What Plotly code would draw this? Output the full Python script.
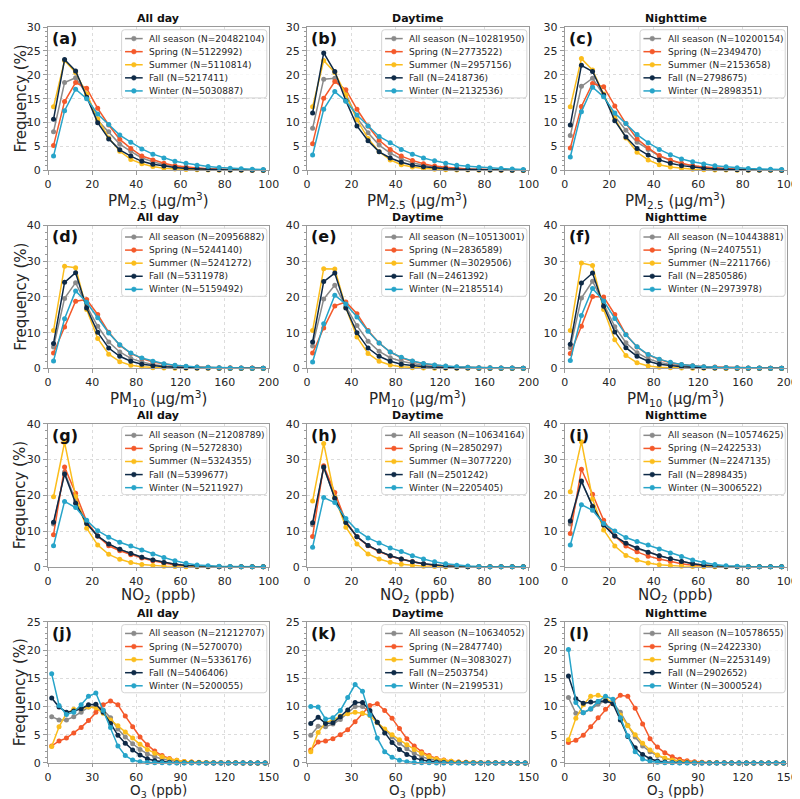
import plotly.graph_objects as go

W, H = 800, 799

season_names = ["All season", "Spring", "Summer", "Fall", "Winter"]
season_colors = ["#8a8a8a", "#f4592a", "#fbbd1c", "#0e2a47", "#27a4c9"]

# bin centres
x_pm25 = [2.5, 7.5, 12.5, 17.5, 22.5, 27.5, 32.5, 37.5, 42.5, 47.5,
          52.5, 57.5, 62.5, 67.5, 72.5, 77.5, 82.5, 87.5, 92.5, 97.5]
x_pm10 = [5, 15, 25, 35, 45, 55, 65, 75, 85, 95,
          105, 115, 125, 135, 145, 155, 165, 175, 185, 195]
x_no2 = [2.5, 7.5, 12.5, 17.5, 22.5, 27.5, 32.5, 37.5, 42.5, 47.5,
         52.5, 57.5, 62.5, 67.5, 72.5, 77.5, 82.5, 87.5, 92.5, 97.5]
x_o3 = [2.5, 7.5, 12.5, 17.5, 22.5, 27.5, 32.5, 37.5, 42.5, 47.5,
        52.5, 57.5, 62.5, 67.5, 72.5, 77.5, 82.5, 87.5, 92.5, 97.5,
        102.5, 107.5, 112.5, 117.5, 122.5, 127.5, 132.5, 137.5, 142.5, 147.5]

# ---------------- PM2.5 ----------------
pm25_allday = [
    [8.1, 18.4, 19.4, 16.0, 10.5, 8.1, 5.5, 4.0, 2.6, 1.8, 1.2, 0.8, 0.6, 0.4, 0.3, 0.2, 0.15, 0.1, 0.07, 0.05],
    [5.2, 14.4, 18.4, 17.2, 13.0, 9.5, 6.5, 4.6, 3.0, 2.2, 1.5, 1.0, 0.7, 0.5, 0.35, 0.25, 0.18, 0.12, 0.08, 0.06],
    [13.3, 23.0, 20.5, 16.0, 10.8, 6.8, 4.0, 2.3, 1.4, 0.8, 0.45, 0.28, 0.18, 0.12, 0.08, 0.05, 0.03, 0.02, 0.02, 0.01],
    [10.7, 23.2, 20.8, 15.3, 10.0, 6.6, 4.3, 3.0, 1.9, 1.3, 0.9, 0.6, 0.4, 0.3, 0.2, 0.14, 0.1, 0.07, 0.05, 0.04],
    [3.0, 12.5, 17.0, 15.0, 11.8, 9.6, 7.4, 5.9, 4.5, 3.4, 2.6, 1.9, 1.5, 1.1, 0.8, 0.6, 0.45, 0.35, 0.25, 0.2],
]
pm25_day = [
    [8.8, 19.1, 19.3, 16.0, 11.0, 7.9, 5.3, 3.6, 2.4, 1.6, 1.1, 0.7, 0.5, 0.35, 0.25, 0.18, 0.12, 0.08, 0.06, 0.04],
    [5.6, 15.1, 18.6, 16.9, 12.8, 9.3, 6.3, 4.4, 3.0, 2.1, 1.4, 0.9, 0.65, 0.45, 0.3, 0.22, 0.15, 0.1, 0.07, 0.05],
    [13.3, 23.0, 20.5, 15.8, 10.6, 6.7, 3.9, 2.2, 1.2, 0.7, 0.4, 0.25, 0.15, 0.1, 0.06, 0.04, 0.03, 0.02, 0.01, 0.01],
    [12.0, 24.6, 20.7, 14.6, 9.3, 6.2, 3.9, 2.6, 1.7, 1.1, 0.75, 0.5, 0.35, 0.25, 0.17, 0.12, 0.08, 0.06, 0.04, 0.03],
    [3.2, 12.8, 16.5, 14.5, 11.6, 9.3, 7.1, 5.8, 4.4, 3.4, 2.6, 2.0, 1.5, 1.1, 0.85, 0.65, 0.5, 0.38, 0.28, 0.2],
]
pm25_night = [
    [7.3, 17.6, 19.3, 15.7, 11.3, 8.4, 5.9, 4.4, 3.0, 2.1, 1.4, 0.95, 0.65, 0.45, 0.3, 0.22, 0.15, 0.1, 0.07, 0.05],
    [4.7, 13.4, 18.2, 17.5, 13.5, 9.8, 6.6, 4.7, 3.1, 2.2, 1.5, 1.0, 0.7, 0.5, 0.35, 0.25, 0.18, 0.12, 0.08, 0.06],
    [13.3, 23.4, 21.0, 16.0, 10.9, 6.8, 3.8, 2.2, 1.2, 0.7, 0.4, 0.25, 0.15, 0.1, 0.06, 0.04, 0.03, 0.02, 0.01, 0.01],
    [9.5, 22.0, 20.7, 15.8, 10.4, 7.0, 4.6, 3.2, 2.2, 1.5, 1.0, 0.7, 0.45, 0.32, 0.22, 0.16, 0.11, 0.08, 0.06, 0.04],
    [2.8, 12.3, 17.4, 15.4, 12.0, 9.8, 7.5, 5.8, 4.4, 3.3, 2.4, 1.8, 1.35, 1.0, 0.75, 0.55, 0.42, 0.32, 0.24, 0.18],
]

# ---------------- PM10 ----------------
pm10_allday = [
    [6.0, 19.6, 24.0, 17.5, 11.8, 7.4, 4.6, 2.8, 1.8, 1.1, 0.7, 0.45, 0.3, 0.2, 0.14, 0.1, 0.07, 0.05, 0.04, 0.03],
    [4.3, 11.6, 18.8, 19.3, 15.1, 10.1, 6.5, 4.2, 2.8, 1.8, 1.2, 0.8, 0.55, 0.4, 0.3, 0.22, 0.16, 0.12, 0.09, 0.07],
    [10.6, 28.6, 28.2, 16.5, 8.4, 4.0, 1.9, 0.9, 0.45, 0.22, 0.12, 0.07, 0.04, 0.03, 0.02, 0.01, 0.01, 0.01, 0.0, 0.0],
    [7.0, 24.1, 26.8, 16.9, 10.1, 5.7, 3.4, 2.0, 1.2, 0.75, 0.45, 0.3, 0.2, 0.13, 0.09, 0.06, 0.04, 0.03, 0.02, 0.02],
    [2.1, 13.9, 21.7, 18.5, 14.2, 9.9, 6.6, 4.3, 2.9, 2.0, 1.3, 0.9, 0.6, 0.42, 0.3, 0.2, 0.15, 0.1, 0.08, 0.06],
]
pm10_day = [
    [6.3, 19.4, 23.3, 17.3, 12.0, 7.6, 4.8, 3.0, 2.0, 1.3, 0.8, 0.55, 0.35, 0.25, 0.17, 0.12, 0.08, 0.06, 0.04, 0.03],
    [4.3, 11.3, 17.5, 18.6, 15.3, 10.6, 7.1, 4.6, 3.0, 2.0, 1.3, 0.9, 0.6, 0.42, 0.3, 0.22, 0.16, 0.12, 0.09, 0.07],
    [10.6, 27.9, 27.8, 17.0, 8.8, 4.2, 2.0, 0.95, 0.45, 0.22, 0.12, 0.07, 0.04, 0.03, 0.02, 0.01, 0.01, 0.01, 0.0, 0.0],
    [7.4, 24.3, 26.7, 16.9, 10.0, 5.7, 3.4, 2.0, 1.2, 0.75, 0.45, 0.3, 0.2, 0.13, 0.09, 0.06, 0.04, 0.03, 0.02, 0.02],
    [1.8, 12.5, 20.5, 18.0, 14.4, 10.4, 7.1, 4.6, 3.1, 2.1, 1.4, 0.95, 0.65, 0.45, 0.3, 0.22, 0.16, 0.12, 0.09, 0.07],
]
pm10_night = [
    [5.8, 19.7, 24.4, 17.9, 11.7, 7.2, 4.4, 2.7, 1.7, 1.1, 0.7, 0.45, 0.3, 0.2, 0.14, 0.1, 0.07, 0.05, 0.04, 0.03],
    [4.2, 11.8, 20.1, 20.0, 15.1, 9.5, 6.0, 3.8, 2.5, 1.6, 1.1, 0.75, 0.5, 0.38, 0.28, 0.2, 0.15, 0.11, 0.08, 0.06],
    [10.6, 29.5, 28.8, 16.5, 8.0, 3.6, 1.6, 0.7, 0.35, 0.18, 0.1, 0.06, 0.03, 0.02, 0.01, 0.01, 0.01, 0.0, 0.0, 0.0],
    [6.8, 23.9, 26.7, 17.4, 10.2, 5.8, 3.4, 2.0, 1.2, 0.75, 0.45, 0.3, 0.2, 0.13, 0.09, 0.06, 0.04, 0.03, 0.02, 0.02],
    [2.2, 14.8, 22.4, 18.9, 14.0, 9.4, 6.1, 3.9, 2.6, 1.7, 1.1, 0.75, 0.5, 0.35, 0.25, 0.18, 0.13, 0.09, 0.07, 0.05],
]

# ---------------- NO2 ----------------
no2_allday = [
    [12.0, 26.5, 18.5, 12.3, 8.6, 6.3, 4.9, 3.7, 2.7, 1.9, 1.2, 0.7, 0.4, 0.2, 0.1, 0.05, 0.03, 0.02, 0.01, 0.01],
    [9.0, 27.9, 20.6, 12.7, 8.6, 5.9, 4.5, 3.4, 2.5, 1.7, 1.0, 0.5, 0.25, 0.12, 0.06, 0.03, 0.02, 0.01, 0.01, 0.0],
    [19.6, 34.8, 19.7, 10.8, 6.1, 3.5, 2.1, 1.2, 0.65, 0.35, 0.18, 0.09, 0.05, 0.03, 0.02, 0.01, 0.01, 0.0, 0.0, 0.0],
    [12.5, 26.0, 17.8, 12.1, 8.6, 6.4, 4.9, 3.7, 2.7, 1.9, 1.2, 0.7, 0.4, 0.2, 0.1, 0.05, 0.03, 0.02, 0.01, 0.01],
    [5.9, 18.3, 16.6, 13.0, 10.1, 8.3, 6.9, 5.8, 4.7, 3.6, 2.6, 1.7, 1.0, 0.55, 0.28, 0.14, 0.07, 0.04, 0.02, 0.01],
]
no2_day = [
    [11.8, 27.8, 19.3, 12.5, 8.5, 6.0, 4.4, 3.1, 2.2, 1.5, 0.9, 0.5, 0.25, 0.12, 0.06, 0.03, 0.02, 0.01, 0.01, 0.0],
    [8.5, 28.3, 20.8, 12.7, 8.4, 5.9, 4.3, 3.0, 2.1, 1.4, 0.8, 0.4, 0.2, 0.1, 0.05, 0.03, 0.02, 0.01, 0.0, 0.0],
    [18.4, 34.5, 19.5, 11.1, 6.4, 3.6, 2.2, 1.3, 0.7, 0.35, 0.18, 0.09, 0.05, 0.03, 0.02, 0.01, 0.01, 0.0, 0.0, 0.0],
    [12.3, 27.9, 19.2, 12.4, 8.4, 6.0, 4.4, 3.1, 2.2, 1.4, 0.85, 0.45, 0.22, 0.1, 0.05, 0.03, 0.02, 0.01, 0.01, 0.0],
    [5.5, 19.4, 18.0, 13.5, 10.2, 8.1, 6.7, 5.3, 4.3, 3.1, 2.2, 1.4, 0.85, 0.45, 0.22, 0.1, 0.05, 0.03, 0.02, 0.01],
]
no2_night = [
    [12.0, 23.8, 17.0, 11.8, 8.6, 6.5, 5.1, 4.0, 3.1, 2.3, 1.5, 0.9, 0.5, 0.25, 0.12, 0.06, 0.03, 0.02, 0.01, 0.01],
    [9.3, 27.3, 20.3, 13.0, 8.6, 5.8, 4.2, 3.0, 2.2, 1.5, 0.9, 0.45, 0.22, 0.1, 0.05, 0.03, 0.02, 0.01, 0.0, 0.0],
    [21.0, 35.0, 19.0, 10.3, 5.8, 3.2, 1.9, 1.1, 0.6, 0.3, 0.15, 0.08, 0.04, 0.02, 0.01, 0.01, 0.0, 0.0, 0.0, 0.0],
    [12.8, 24.0, 16.9, 11.7, 8.6, 6.6, 5.3, 4.1, 3.1, 2.3, 1.5, 0.85, 0.45, 0.22, 0.1, 0.05, 0.03, 0.02, 0.01, 0.01],
    [6.1, 17.4, 15.8, 12.1, 10.0, 8.2, 7.1, 6.1, 5.0, 3.9, 2.9, 1.9, 1.2, 0.65, 0.32, 0.15, 0.07, 0.04, 0.02, 0.01],
]

# ---------------- O3 ----------------
o3_allday = [
    [8.2, 7.6, 7.6, 8.2, 9.0, 9.9, 10.2, 9.4, 8.0, 6.0, 4.6, 3.4, 2.4, 1.6, 1.1, 0.7, 0.45, 0.28, 0.17, 0.1,
     0.06, 0.04, 0.03, 0.02, 0.01, 0.01, 0.01, 0.0, 0.0, 0.0],
    [3.0, 3.9, 4.4, 5.3, 6.3, 7.5, 9.0, 10.3, 11.0, 10.3, 8.3, 6.4, 4.6, 3.2, 2.1, 1.3, 0.8, 0.45, 0.25, 0.14,
     0.08, 0.05, 0.03, 0.02, 0.01, 0.01, 0.0, 0.0, 0.0, 0.0],
    [2.9, 6.4, 8.8, 9.5, 9.6, 9.9, 9.8, 8.8, 7.6, 6.6, 5.5, 4.4, 3.3, 2.4, 1.7, 1.1, 0.7, 0.45, 0.27, 0.16,
     0.1, 0.06, 0.04, 0.02, 0.01, 0.01, 0.0, 0.0, 0.0, 0.0],
    [11.5, 9.9, 9.0, 9.2, 9.6, 10.3, 10.4, 9.0, 7.0, 4.9, 3.5, 2.3, 1.4, 0.75, 0.4, 0.2, 0.1, 0.05, 0.03, 0.02,
     0.01, 0.0, 0.0, 0.0, 0.0, 0.0, 0.0, 0.0, 0.0, 0.0],
    [15.8, 10.2, 8.6, 9.0, 10.3, 11.8, 12.4, 9.3, 6.3, 3.0, 1.3, 0.5, 0.2, 0.08, 0.03, 0.01, 0.0, 0.0, 0.0, 0.0,
     0.0, 0.0, 0.0, 0.0, 0.0, 0.0, 0.0, 0.0, 0.0, 0.0],
]
o3_day = [
    [4.9, 6.5, 6.4, 6.9, 7.7, 8.9, 10.0, 10.0, 9.0, 7.2, 5.9, 4.6, 3.5, 2.5, 1.7, 1.1, 0.7, 0.45, 0.28, 0.17,
     0.1, 0.06, 0.04, 0.02, 0.01, 0.01, 0.0, 0.0, 0.0, 0.0],
    [2.3, 3.7, 3.9, 4.3, 5.0, 5.9, 7.3, 8.8, 10.2, 10.5, 9.3, 7.9, 6.1, 4.3, 3.0, 2.0, 1.3, 0.8, 0.5, 0.3,
     0.18, 0.1, 0.06, 0.04, 0.02, 0.01, 0.01, 0.0, 0.0, 0.0],
    [2.0, 5.4, 7.1, 7.6, 8.3, 8.7, 9.0, 8.8, 8.4, 7.1, 6.0, 5.0, 4.1, 3.2, 2.4, 1.7, 1.1, 0.7, 0.45, 0.28,
     0.17, 0.1, 0.06, 0.03, 0.02, 0.01, 0.0, 0.0, 0.0, 0.0],
    [7.0, 8.1, 7.0, 7.1, 8.2, 9.4, 10.7, 10.7, 9.3, 7.2, 5.3, 3.6, 2.4, 1.5, 0.9, 0.5, 0.3, 0.15, 0.08, 0.04,
     0.02, 0.01, 0.0, 0.0, 0.0, 0.0, 0.0, 0.0, 0.0, 0.0],
    [10.0, 9.9, 7.8, 8.0, 9.3, 11.6, 13.9, 12.7, 8.5, 4.4, 2.0, 1.0, 0.45, 0.2, 0.08, 0.03, 0.01, 0.0, 0.0, 0.0,
     0.0, 0.0, 0.0, 0.0, 0.0, 0.0, 0.0, 0.0, 0.0, 0.0],
]
o3_night = [
    [11.6, 8.8, 8.9, 9.5, 10.4, 11.0, 10.6, 9.0, 6.7, 4.6, 3.0, 2.0, 1.3, 0.8, 0.5, 0.3, 0.18, 0.1, 0.06, 0.03,
     0.02, 0.01, 0.0, 0.0, 0.0, 0.0, 0.0, 0.0, 0.0, 0.0],
    [3.6, 4.0, 4.9, 6.4, 8.0, 9.5, 10.9, 12.0, 11.8, 9.7, 6.9, 4.3, 2.8, 1.8, 1.1, 0.65, 0.38, 0.2, 0.11, 0.06,
     0.03, 0.02, 0.01, 0.0, 0.0, 0.0, 0.0, 0.0, 0.0, 0.0],
    [4.1, 7.9, 10.3, 11.8, 12.0, 11.5, 10.5, 8.5, 6.6, 5.0, 3.5, 2.3, 1.4, 0.85, 0.5, 0.28, 0.15, 0.08, 0.04, 0.02,
     0.01, 0.0, 0.0, 0.0, 0.0, 0.0, 0.0, 0.0, 0.0, 0.0],
    [15.4, 11.4, 10.6, 10.8, 10.9, 11.0, 10.5, 7.6, 4.7, 2.7, 1.5, 0.75, 0.35, 0.15, 0.07, 0.03, 0.01, 0.0, 0.0, 0.0,
     0.0, 0.0, 0.0, 0.0, 0.0, 0.0, 0.0, 0.0, 0.0, 0.0],
    [20.1, 10.7, 8.9, 9.6, 10.9, 11.8, 11.3, 8.0, 4.8, 2.0, 0.7, 0.25, 0.1, 0.04, 0.01, 0.0, 0.0, 0.0, 0.0, 0.0,
     0.0, 0.0, 0.0, 0.0, 0.0, 0.0, 0.0, 0.0, 0.0, 0.0],
]

# sample counts shown in the legends
n_a = [20482104, 5122992, 5110814, 5217411, 5030887]
n_b = [10281950, 2773522, 2957156, 2418736, 2132536]
n_c = [10200154, 2349470, 2153658, 2798675, 2898351]
n_d = [20956882, 5244140, 5241272, 5311978, 5159492]
n_e = [10513001, 2836589, 3029506, 2461392, 2185514]
n_f = [10443881, 2407551, 2211766, 2850586, 2973978]
n_g = [21208789, 5272830, 5324355, 5399677, 5211927]
n_h = [10634164, 2850297, 3077220, 2501242, 2205405]
n_i = [10574625, 2422533, 2247135, 2898435, 3006522]
n_j = [21212707, 5270070, 5336176, 5406406, 5200055]
n_k = [10634052, 2847740, 3083027, 2503754, 2199531]
n_l = [10578655, 2422330, 2253149, 2902652, 3000524]

panel_letters = ["a", "b", "c", "d", "e", "f", "g", "h", "i", "j", "k", "l"]
column_titles = ["All day", "Daytime", "Nighttime"]
row_x = [x_pm25, x_pm10, x_no2, x_o3]
row_series = [[pm25_allday, pm25_day, pm25_night],
              [pm10_allday, pm10_day, pm10_night],
              [no2_allday, no2_day, no2_night],
              [o3_allday, o3_day, o3_night]]
row_counts = [[n_a, n_b, n_c], [n_d, n_e, n_f], [n_g, n_h, n_i], [n_j, n_k, n_l]]
row_xtitles = ["PM<sub>2.5</sub> (μg/m<sup>3</sup>)", "PM<sub>10</sub> (μg/m<sup>3</sup>)",
               "NO<sub>2</sub> (ppb)", "O<sub>3</sub> (ppb)"]
row_xmax = [100, 200, 100, 150]
row_xdtick = [20, 40, 20, 30]
row_ymax = [30, 40, 40, 25]
row_ydtick = [5, 10, 10, 5]
row_yminor = [1, 2, 2, 1]
row_title_gap = [18.5, 18.5, 18.5, 18.3]
row_title_size = [15, 15, 15, 13.5]

# layout geometry (pixels)
col_px = [(36.7, 261.7), (300.7, 526.7), (563.3, 790.0)]
row_px = [(13.3, 159.0), (215.0, 360.3), (416.6, 562.0), (618.0, 761.3)]

FONT = "DejaVu Sans"
TXT = "#262626"
SPINE = "#9a9a9a"
GRID = "#dcdcdc"


def PX(x):
    return x / W


def PY(y):
    return 1 - y / H


fig = go.Figure()
layout = {}
shapes = []
annotations = []

for r in range(4):
    for c in range(3):
        k = r * 3 + c + 1
        sx = "" if k == 1 else str(k)
        xa, ya = "x" + sx, "y" + sx
        L, R = col_px[c]
        T, B = row_px[r]
        series = row_series[r][c]
        counts = row_counts[r][c]
        for s in range(5):
            fig.add_trace(go.Scatter(
                x=row_x[r], y=series[s], mode="lines+markers",
                name=season_names[s],
                line=dict(color=season_colors[s], width=1.5),
                marker=dict(color=season_colors[s], size=5),
                xaxis=xa, yaxis=ya, showlegend=False, cliponaxis=False,
            ))
        layout["xaxis" + sx] = dict(
            domain=[PX(L), PX(R)], anchor=ya, range=[0, row_xmax[r]],
            tickmode="linear", tick0=0, dtick=row_xdtick[r],
            showgrid=True, gridcolor=GRID, griddash="dot", gridwidth=1,
            showline=True, linecolor=SPINE, linewidth=1, mirror=True,
            ticks="outside", ticklen=3.5, tickcolor=SPINE,
            tickfont=dict(size=11, color=TXT, family=FONT),
            zeroline=False,
        )
        layout["yaxis" + sx] = dict(
            domain=[PY(B), PY(T)], anchor=xa, range=[0, row_ymax[r]],
            tickmode="linear", tick0=0, dtick=row_ydtick[r],
            showgrid=True, gridcolor=GRID, griddash="dot", gridwidth=1,
            showline=True, linecolor=SPINE, linewidth=1, mirror=True,
            ticks="outside", ticklen=4, tickcolor=SPINE,
            minor=dict(ticks="outside", ticklen=2, tickcolor=SPINE, dtick=row_yminor[r], showgrid=False),
            tickfont=dict(size=11, color=TXT, family=FONT),
            zeroline=False,
        )
        # x-axis title
        annotations.append(dict(
            x=PX((L + R) / 2), y=PY(B + row_title_gap[r]), xref="paper", yref="paper",
            xanchor="center", yanchor="top", showarrow=False, borderpad=0,
            text=row_xtitles[r], font=dict(size=row_title_size[r], color=TXT, family=FONT)))
        # y-axis title (first column)
        if c == 0:
            annotations.append(dict(
                x=PX(9), y=PY((T + B) / 2), xref="paper", yref="paper",
                xanchor="center", yanchor="middle", showarrow=False, textangle=-90,
                text="Frequency (%)", font=dict(size=15, color=TXT, family=FONT)))
        # column title
        annotations.append(dict(
            x=PX((L + R) / 2), y=PY(T - 1), xref="paper", yref="paper",
            xanchor="center", yanchor="bottom", showarrow=False, borderpad=0,
            text="<b>" + column_titles[c] + "</b>",
            font=dict(size=11, color="#111111", family=FONT)))
        # panel label
        annotations.append(dict(
            x=PX(L + 2), y=PY(T + 11.5), xref="paper", yref="paper",
            xanchor="left", yanchor="middle", showarrow=False,
            text="<b>(" + panel_letters[k - 1] + ")</b>",
            font=dict(size=16, color="#111111", family=FONT)))
        # legend box (rounded)
        bx0, bx1 = R - 150, R - 2
        by0, by1 = T + 2.7, T + 72
        rr = 3
        pts = [("M", bx0 + rr, by0), ("L", bx1 - rr, by0), ("Q", bx1, by0, bx1, by0 + rr),
               ("L", bx1, by1 - rr), ("Q", bx1, by1, bx1 - rr, by1), ("L", bx0 + rr, by1),
               ("Q", bx0, by1, bx0, by1 - rr), ("L", bx0, by0 + rr), ("Q", bx0, by0, bx0 + rr, by0)]
        path = ""
        for p in pts:
            if p[0] == "Q":
                path += "Q%.5f,%.5f %.5f,%.5f " % (PX(p[1]), PY(p[2]), PX(p[3]), PY(p[4]))
            else:
                path += "%s%.5f,%.5f " % (p[0], PX(p[1]), PY(p[2]))
        path += "Z"
        shapes.append(dict(type="path", path=path, xref="paper", yref="paper",
                           fillcolor="rgba(255,255,255,0.82)",
                           line=dict(color="#d4d4d4", width=1), layer="above"))
        for s in range(5):
            yc = by0 + 9 + 13.3 * s
            shapes.append(dict(type="line", xref="paper", yref="paper",
                               x0=PX(bx0 + 3.5), x1=PX(bx0 + 21.5), y0=PY(yc), y1=PY(yc),
                               line=dict(color=season_colors[s], width=1.5), layer="above"))
            xm = bx0 + 12.5
            shapes.append(dict(type="circle", xref="paper", yref="paper",
                               x0=PX(xm - 2.4), x1=PX(xm + 2.4), y0=PY(yc + 2.4), y1=PY(yc - 2.4),
                               fillcolor=season_colors[s], line=dict(color=season_colors[s], width=0.5),
                               layer="above"))
            annotations.append(dict(
                x=PX(bx0 + 26), y=PY(yc), xref="paper", yref="paper",
                xanchor="left", yanchor="middle", showarrow=False,
                text="%s (N=%d)" % (season_names[s], counts[s]),
                font=dict(size=9, color=TXT, family=FONT)))

fig.update_layout(
    width=W, height=H,
    margin=dict(l=0, r=0, t=0, b=0),
    paper_bgcolor="white", plot_bgcolor="white",
    font=dict(family=FONT, color=TXT),
    showlegend=False,
    shapes=shapes, annotations=annotations,
    **layout,
)

fig.write_html("out.html")
